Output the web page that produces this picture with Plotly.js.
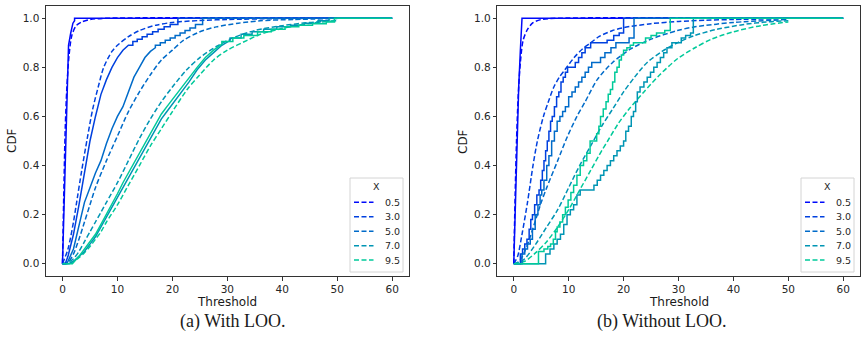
<!DOCTYPE html>
<html>
<head>
<meta charset="utf-8">
<script src="https://cdn.plot.ly/plotly-3.0.1.min.js"></script>
<style>
  html, body { margin: 0; padding: 0; background: #fff; }
  #chart { width: 866px; height: 354px; }
</style>
</head>
<body>
<div id="chart"></div>
<script>
// Hue levels of X and their legend labels
const X_LABELS = ['0.5', '3.0', '5.0', '7.0', '9.5'];
const X_COLORS = ['#000afa', '#0040df', '#006bc9', '#0095b4', '#00ca9a'];

// ---------- (a) With LOO: fitted CDFs (dashed) ----------
const withFit05X = [0, 0.25, 0.5, 0.8, 1.2, 1.7, 2.5, 3.5, 5, 8, 50];
const withFit05Y = [0, 0.3, 0.55, 0.72, 0.85, 0.93, 0.97, 0.985, 0.995, 1.0, 1.0];
const withFit30X = [0, 1, 2, 2.5, 3.5, 4.5, 5.5, 6.5, 7.5, 9, 10, 12, 14, 17, 20, 25, 30, 40, 50];
const withFit30Y = [0, 0.06, 0.17, 0.24, 0.38, 0.51, 0.63, 0.72, 0.8, 0.865, 0.89, 0.925, 0.95, 0.972, 0.983, 0.991, 0.995, 0.999, 1.0];
const withFit50X = [0, 1, 2, 3, 4, 5, 6, 8, 10, 12, 14, 16, 18, 20, 22, 25, 28, 32, 36, 42, 50];
const withFit50Y = [0, 0.005, 0.04, 0.1, 0.17, 0.24, 0.31, 0.42, 0.52, 0.62, 0.7, 0.77, 0.83, 0.87, 0.91, 0.945, 0.965, 0.98, 0.99, 0.995, 0.999];
const withFit70X = [0, 1, 2, 3, 4, 5, 6, 7, 8, 10, 12, 14, 16, 18, 20, 22.6, 25, 28, 31, 35, 40, 45, 50];
const withFit70Y = [0, 0.005, 0.02, 0.05, 0.09, 0.13, 0.17, 0.21, 0.25, 0.33, 0.42, 0.51, 0.59, 0.66, 0.72, 0.79, 0.84, 0.885, 0.92, 0.95, 0.97, 0.983, 0.99];
const withFit95X = [0, 1, 2, 3, 4, 5, 6, 7, 8, 10, 12, 14, 16, 18, 20, 22.7, 25, 27.5, 30, 33.6, 36, 39.7, 43, 46.9, 50];
const withFit95Y = [0, 0.002, 0.01, 0.025, 0.045, 0.07, 0.1, 0.13, 0.17, 0.24, 0.32, 0.4, 0.48, 0.55, 0.62, 0.71, 0.77, 0.83, 0.87, 0.91, 0.935, 0.957, 0.972, 0.984, 0.99];

// ---------- (a) With LOO: empirical CDFs (solid) ----------
const withEmp05X = [0, 0.35, 0.7, 1.1, 1.5, 1.9, 2.2, 2.2, 60];
const withEmp05Y = [0, 0.3, 0.6, 0.89, 0.94, 0.98, 0.99, 1.0, 1.0];
const withEmp30X = [0, 0.5, 1, 2, 3, 4, 5, 6, 7, 8, 9, 10, 11, 12, 12.8, 12.8, 13.6, 13.6, 14.5, 14.5, 15.4, 15.4, 16.4, 16.4, 17.4, 17.4, 18.5, 18.5, 19.6, 19.6, 21.0, 21.0, 60];
const withEmp30Y = [0, 0, 0.03, 0.12, 0.24, 0.37, 0.5, 0.6, 0.69, 0.75, 0.8, 0.84, 0.87, 0.89, 0.89, 0.905, 0.905, 0.915, 0.915, 0.925, 0.925, 0.935, 0.935, 0.945, 0.945, 0.955, 0.955, 0.965, 0.965, 0.975, 0.975, 1.0, 1.0];
const withEmp50X = [0, 0.8, 2, 3, 4, 5, 6, 7, 8, 9, 10, 11, 12, 13, 14, 15, 16, 16.9, 16.9, 17.8, 17.8, 18.7, 18.7, 19.6, 19.6, 20.5, 20.5, 21.4, 21.4, 22.3, 22.3, 23.2, 23.2, 24.2, 24.2, 25.5, 25.5, 60];
const withEmp50Y = [0, 0, 0.06, 0.15, 0.25, 0.31, 0.37, 0.42, 0.49, 0.55, 0.6, 0.64, 0.7, 0.76, 0.8, 0.84, 0.865, 0.88, 0.89, 0.89, 0.9, 0.9, 0.91, 0.91, 0.92, 0.92, 0.93, 0.93, 0.94, 0.94, 0.95, 0.95, 0.96, 0.96, 0.975, 0.975, 1.0, 1.0];
const withEmp70X = [0, 1.2, 2, 3, 4, 5, 6, 7, 8, 9, 10, 11, 12, 13, 14, 15, 16, 17, 18, 19, 20, 21.4, 23, 24.5, 26, 27.5, 29, 30.5, 30.5, 32.5, 32.5, 34.5, 34.5, 36.6, 36.6, 39, 39, 41.5, 41.5, 44, 44, 46.5, 46.5, 48.5, 48.5, 60];
const withEmp70Y = [0, 0, 0.01, 0.03, 0.05, 0.08, 0.11, 0.15, 0.19, 0.23, 0.27, 0.31, 0.35, 0.39, 0.43, 0.47, 0.51, 0.55, 0.59, 0.62, 0.65, 0.69, 0.74, 0.79, 0.83, 0.86, 0.89, 0.91, 0.92, 0.92, 0.935, 0.935, 0.945, 0.945, 0.955, 0.955, 0.965, 0.965, 0.972, 0.972, 0.98, 0.98, 0.99, 0.99, 1.0, 1.0];
const withEmp95X = [0, 1.8, 3, 4, 5, 6, 7, 8, 9, 10, 11, 12, 13, 14, 15, 16, 17, 18, 19, 20, 21.4, 23, 24.5, 26, 27.5, 29, 29, 31, 31, 33, 33, 35.5, 35.5, 38, 38, 40.5, 40.5, 43, 43, 45.5, 45.5, 48, 48, 49.5, 49.5, 60];
const withEmp95Y = [0, 0, 0.03, 0.06, 0.09, 0.12, 0.16, 0.2, 0.245, 0.285, 0.33, 0.37, 0.41, 0.45, 0.49, 0.53, 0.57, 0.61, 0.64, 0.67, 0.71, 0.76, 0.8, 0.84, 0.87, 0.895, 0.905, 0.905, 0.92, 0.92, 0.93, 0.93, 0.945, 0.945, 0.955, 0.955, 0.965, 0.965, 0.972, 0.972, 0.978, 0.978, 0.985, 0.985, 1.0, 1.0];

// ---------- (b) Without LOO: fitted CDFs (dashed) ----------
const noFit05X = [0, 0.25, 0.5, 0.8, 1.2, 1.7, 2.5, 3.5, 5, 8, 50];
const noFit05Y = [0, 0.28, 0.5, 0.68, 0.82, 0.91, 0.955, 0.982, 0.995, 1.0, 1.0];
const noFit30X = [0, 0.7, 1.5, 2.5, 3.5, 4.3, 5.4, 6.3, 7.3, 8.3, 9.3, 11, 12.5, 14, 15.5, 18, 20, 25, 30, 35, 40, 50];
const noFit30Y = [0, 0.03, 0.12, 0.25, 0.4, 0.5, 0.6, 0.66, 0.72, 0.76, 0.79, 0.84, 0.875, 0.9, 0.925, 0.95, 0.962, 0.978, 0.987, 0.992, 0.995, 0.998];
const noFit50X = [0, 1, 2, 3, 4, 5, 6, 8, 9.8, 11.5, 13, 15.2, 18, 21.3, 25, 29.8, 33, 40, 50];
const noFit50Y = [0, 0.01, 0.05, 0.11, 0.18, 0.25, 0.31, 0.42, 0.52, 0.6, 0.66, 0.75, 0.82, 0.875, 0.915, 0.95, 0.965, 0.983, 0.995];
const noFit70X = [0, 1, 2, 4, 6, 8, 10, 12, 14, 16, 18, 20, 22, 24.3, 27, 29.8, 33, 37, 42, 46, 50];
const noFit70Y = [0, 0.005, 0.02, 0.08, 0.15, 0.22, 0.31, 0.4, 0.48, 0.56, 0.63, 0.7, 0.76, 0.82, 0.865, 0.9, 0.93, 0.955, 0.975, 0.985, 0.99];
const noFit95X = [0, 2, 4, 6, 8, 10, 12, 14, 16, 17.1, 19, 21, 23.7, 26.6, 29.8, 33, 36, 40, 45, 50];
const noFit95Y = [0, 0.01, 0.045, 0.09, 0.15, 0.22, 0.3, 0.38, 0.46, 0.5, 0.57, 0.63, 0.7, 0.77, 0.835, 0.88, 0.915, 0.945, 0.97, 0.985];

// ---------- (b) Without LOO: empirical CDFs (solid, step) ----------
const noEmp05X = [0, 0.3, 0.6, 0.9, 1.2, 1.4, 1.5, 60];
const noEmp05Y = [0, 0.25, 0.53, 0.72, 0.87, 0.95, 1.0, 1.0];
const noEmp30X = [0, 1.2, 1.6, 2.0, 2.4, 2.8, 3.1, 3.4, 3.8, 4.2, 4.6, 4.9, 5.2, 5.5, 5.8, 6.1, 6.4, 6.7, 7.0, 7.4, 7.8, 8.2, 8.6, 9.0, 9.4, 9.8, 10.5, 11.2, 11.8, 12.4, 13.0, 13.4, 14.0, 16.0, 17.0, 18.2, 19.2, 20.0, 60];
const noEmp30Y = [0, 0.04, 0.06, 0.08, 0.1, 0.14, 0.18, 0.2, 0.24, 0.28, 0.3, 0.34, 0.38, 0.42, 0.46, 0.5, 0.54, 0.58, 0.6, 0.64, 0.68, 0.7, 0.74, 0.76, 0.78, 0.8, 0.8, 0.82, 0.84, 0.86, 0.88, 0.88, 0.9, 0.9, 0.91, 0.93, 0.94, 1.0, 1.0];
const noEmp50X = [0, 1.5, 2.0, 2.5, 3.0, 3.4, 3.9, 4.4, 4.8, 5.1, 5.5, 6.0, 6.4, 6.9, 7.4, 7.9, 8.4, 8.9, 9.4, 10.0, 10.6, 11.2, 11.8, 12.4, 13.0, 13.6, 14.2, 15.0, 15.8, 16.6, 17.7, 18.6, 19.5, 21.0, 21.9, 60];
const noEmp50Y = [0, 0.04, 0.06, 0.08, 0.1, 0.14, 0.2, 0.24, 0.28, 0.3, 0.34, 0.4, 0.44, 0.5, 0.54, 0.58, 0.6, 0.62, 0.64, 0.68, 0.7, 0.72, 0.74, 0.76, 0.78, 0.8, 0.82, 0.82, 0.84, 0.86, 0.88, 0.9, 0.9, 0.92, 1.0, 1.0];
const noEmp70X = [0, 5.8, 6.6, 7.3, 7.9, 8.5, 9.1, 9.7, 10.3, 10.9, 11.5, 12.1, 14.6, 15.2, 15.8, 16.4, 17.0, 17.6, 18.2, 18.8, 19.4, 20.0, 20.4, 20.9, 21.4, 21.8, 22.2, 22.5, 23.0, 23.7, 24.3, 24.9, 25.5, 26.1, 26.7, 27.3, 27.9, 28.8, 29.7, 30.5, 31.3, 32.2, 32.7, 60];
const noEmp70Y = [0, 0.04, 0.06, 0.08, 0.1, 0.12, 0.16, 0.2, 0.22, 0.24, 0.28, 0.3, 0.32, 0.34, 0.36, 0.38, 0.4, 0.42, 0.44, 0.46, 0.48, 0.5, 0.54, 0.56, 0.6, 0.62, 0.66, 0.7, 0.72, 0.74, 0.76, 0.78, 0.8, 0.82, 0.84, 0.86, 0.88, 0.9, 0.9, 0.92, 0.93, 0.94, 1.0, 1.0];
const noEmp95X = [0, 4.5, 5.5, 6.2, 6.7, 7.2, 7.6, 7.9, 8.4, 8.9, 9.4, 9.9, 10.4, 10.9, 11.5, 12.1, 12.7, 13.3, 13.9, 15.1, 15.5, 15.8, 16.3, 16.8, 17.2, 17.6, 18.0, 18.4, 18.8, 19.2, 19.6, 20.0, 20.6, 21.2, 21.8, 24.0, 25.0, 26.0, 27.5, 28.5, 60];
const noEmp95Y = [0, 0.05, 0.06, 0.07, 0.08, 0.1, 0.13, 0.15, 0.17, 0.2, 0.23, 0.26, 0.29, 0.32, 0.36, 0.4, 0.42, 0.45, 0.5, 0.53, 0.56, 0.6, 0.63, 0.66, 0.69, 0.71, 0.74, 0.78, 0.8, 0.83, 0.85, 0.87, 0.88, 0.89, 0.9, 0.92, 0.93, 0.94, 0.95, 1.0, 1.0];

const withFits = [[withFit05X, withFit05Y], [withFit30X, withFit30Y], [withFit50X, withFit50Y], [withFit70X, withFit70Y], [withFit95X, withFit95Y]];
const withEmps = [[withEmp05X, withEmp05Y], [withEmp30X, withEmp30Y], [withEmp50X, withEmp50Y], [withEmp70X, withEmp70Y], [withEmp95X, withEmp95Y]];
const noFits = [[noFit05X, noFit05Y], [noFit30X, noFit30Y], [noFit50X, noFit50Y], [noFit70X, noFit70Y], [noFit95X, noFit95Y]];
const noEmps = [[noEmp05X, noEmp05Y], [noEmp30X, noEmp30Y], [noEmp50X, noEmp50Y], [noEmp70X, noEmp70Y], [noEmp95X, noEmp95Y]];

const DASH = '5px,2.5px';
const traces = [];
function addPanel(fits, emps, xa, ya, empShape) {
  fits.forEach(([xs, ys], i) => {
    traces.push({
      type: 'scatter', mode: 'lines', x: xs, y: ys, xaxis: xa, yaxis: ya,
      name: X_LABELS[i], showlegend: false,
      line: { color: X_COLORS[i], width: 1.5, dash: DASH, shape: 'spline', smoothing: 0.8 },
      hoverinfo: 'skip'
    });
  });
  emps.forEach(([xs, ys], i) => {
    traces.push({
      type: 'scatter', mode: 'lines', x: xs, y: ys, xaxis: xa, yaxis: ya,
      name: X_LABELS[i], showlegend: false,
      line: { color: X_COLORS[i], width: 1.5, shape: (i === 0 ? 'linear' : empShape) },
      hoverinfo: 'skip'
    });
  });
}
addPanel(withFits, withEmps, 'x', 'y', 'linear');
addPanel(noFits, noEmps, 'x2', 'y2', 'hv');

const FONT = 'DejaVu Sans, sans-serif';
const tickFont = { family: FONT, size: 10.5, color: '#262626' };
const frameColor = '#333333';
function xAxis(domain, anchor) {
  return {
    domain: domain, anchor: anchor, range: [-3, 63],
    tickvals: [0, 10, 20, 30, 40, 50, 60], ticktext: ['0', '10', '20', '30', '40', '50', '60'],
    ticks: 'outside', ticklen: 3.5, tickwidth: 1, tickcolor: frameColor,
    showline: true, mirror: true, linecolor: frameColor, linewidth: 1,
    showgrid: false, zeroline: false, tickfont: tickFont
  };
}
function yAxis(anchor) {
  return {
    domain: [0, 1], anchor: anchor, range: [-0.05, 1.05],
    tickvals: [0, 0.2, 0.4, 0.6, 0.8, 1.0], ticktext: ['0.0', '0.2', '0.4', '0.6', '0.8', '1.0'],
    ticks: 'outside', ticklen: 3.5, tickwidth: 1, tickcolor: frameColor,
    showline: true, mirror: true, linecolor: frameColor, linewidth: 1,
    showgrid: false, zeroline: false, tickfont: tickFont
  };
}

// Paper-coordinate helpers (plot area spans 6px..276px vertically)
const W = 866, TOP = 6, BOTTOM = 276;
const px = v => v / W;
const py = v => (BOTTOM - v) / (BOTTOM - TOP);

// Legend boxes, one per panel, with the X title and a dashed key per level
const shapes = [];
const annotations = [];
function addLegend(left) {
  shapes.push({
    type: 'rect', xref: 'paper', yref: 'paper', layer: 'above',
    x0: px(left), x1: px(left + 53), y0: py(272), y1: py(178),
    line: { color: '#d4d4d4', width: 1 }, fillcolor: 'rgba(255,255,255,0.85)'
  });
  annotations.push({
    text: 'X', xref: 'paper', yref: 'paper', x: px(left + 26.5), y: py(186),
    xanchor: 'center', yanchor: 'middle', showarrow: false,
    font: { family: FONT, size: 9.5, color: '#262626' }
  });
  X_LABELS.forEach((lab, i) => {
    const rowY = 202.3 + i * 14.45;
    shapes.push({
      type: 'line', xref: 'paper', yref: 'paper', layer: 'above',
      x0: px(left + 4), x1: px(left + 23.5), y0: py(rowY), y1: py(rowY),
      line: { color: X_COLORS[i], width: 1.5, dash: DASH }
    });
    annotations.push({
      text: lab, xref: 'paper', yref: 'paper', x: px(left + 32.5), y: py(rowY),
      xanchor: 'left', yanchor: 'middle', showarrow: false,
      font: { family: FONT, size: 9.5, color: '#262626' }
    });
  });
}
addLegend(350);
addLegend(801);

const labelFont = { family: FONT, size: 12, color: '#1a1a1a' };
const captionFont = { family: 'Liberation Serif, serif', size: 18, color: '#1a1a1a' };
annotations.push(
  { text: 'Threshold', xref: 'paper', yref: 'paper', x: px(227.3), y: py(302), xanchor: 'center', yanchor: 'middle', showarrow: false, font: labelFont },
  { text: 'Threshold', xref: 'paper', yref: 'paper', x: px(678.5), y: py(302), xanchor: 'center', yanchor: 'middle', showarrow: false, font: labelFont },
  { text: 'CDF', xref: 'paper', yref: 'paper', x: px(12), y: 0.5, textangle: -90, xanchor: 'center', yanchor: 'middle', showarrow: false, font: labelFont },
  { text: 'CDF', xref: 'paper', yref: 'paper', x: px(463), y: 0.5, textangle: -90, xanchor: 'center', yanchor: 'middle', showarrow: false, font: labelFont },
  { text: '(a) With LOO.', xref: 'paper', yref: 'paper', x: px(232), y: py(321), xanchor: 'center', yanchor: 'middle', showarrow: false, font: captionFont },
  { text: '(b) Without LOO.', xref: 'paper', yref: 'paper', x: px(661), y: py(321), xanchor: 'center', yanchor: 'middle', showarrow: false, font: captionFont }
);

const layout = {
  width: 866, height: 354,
  margin: { l: 0, r: 0, t: TOP, b: 354 - BOTTOM },
  paper_bgcolor: '#ffffff', plot_bgcolor: '#ffffff',
  showlegend: false,
  xaxis: xAxis([px(46), px(408.7)], 'y'),
  yaxis: yAxis('x'),
  xaxis2: xAxis([px(497.3), px(859.7)], 'y2'),
  yaxis2: yAxis('x2'),
  shapes: shapes,
  annotations: annotations
};

Plotly.newPlot('chart', traces, layout, { staticPlot: true, displayModeBar: false });
</script>
</body>
</html>
